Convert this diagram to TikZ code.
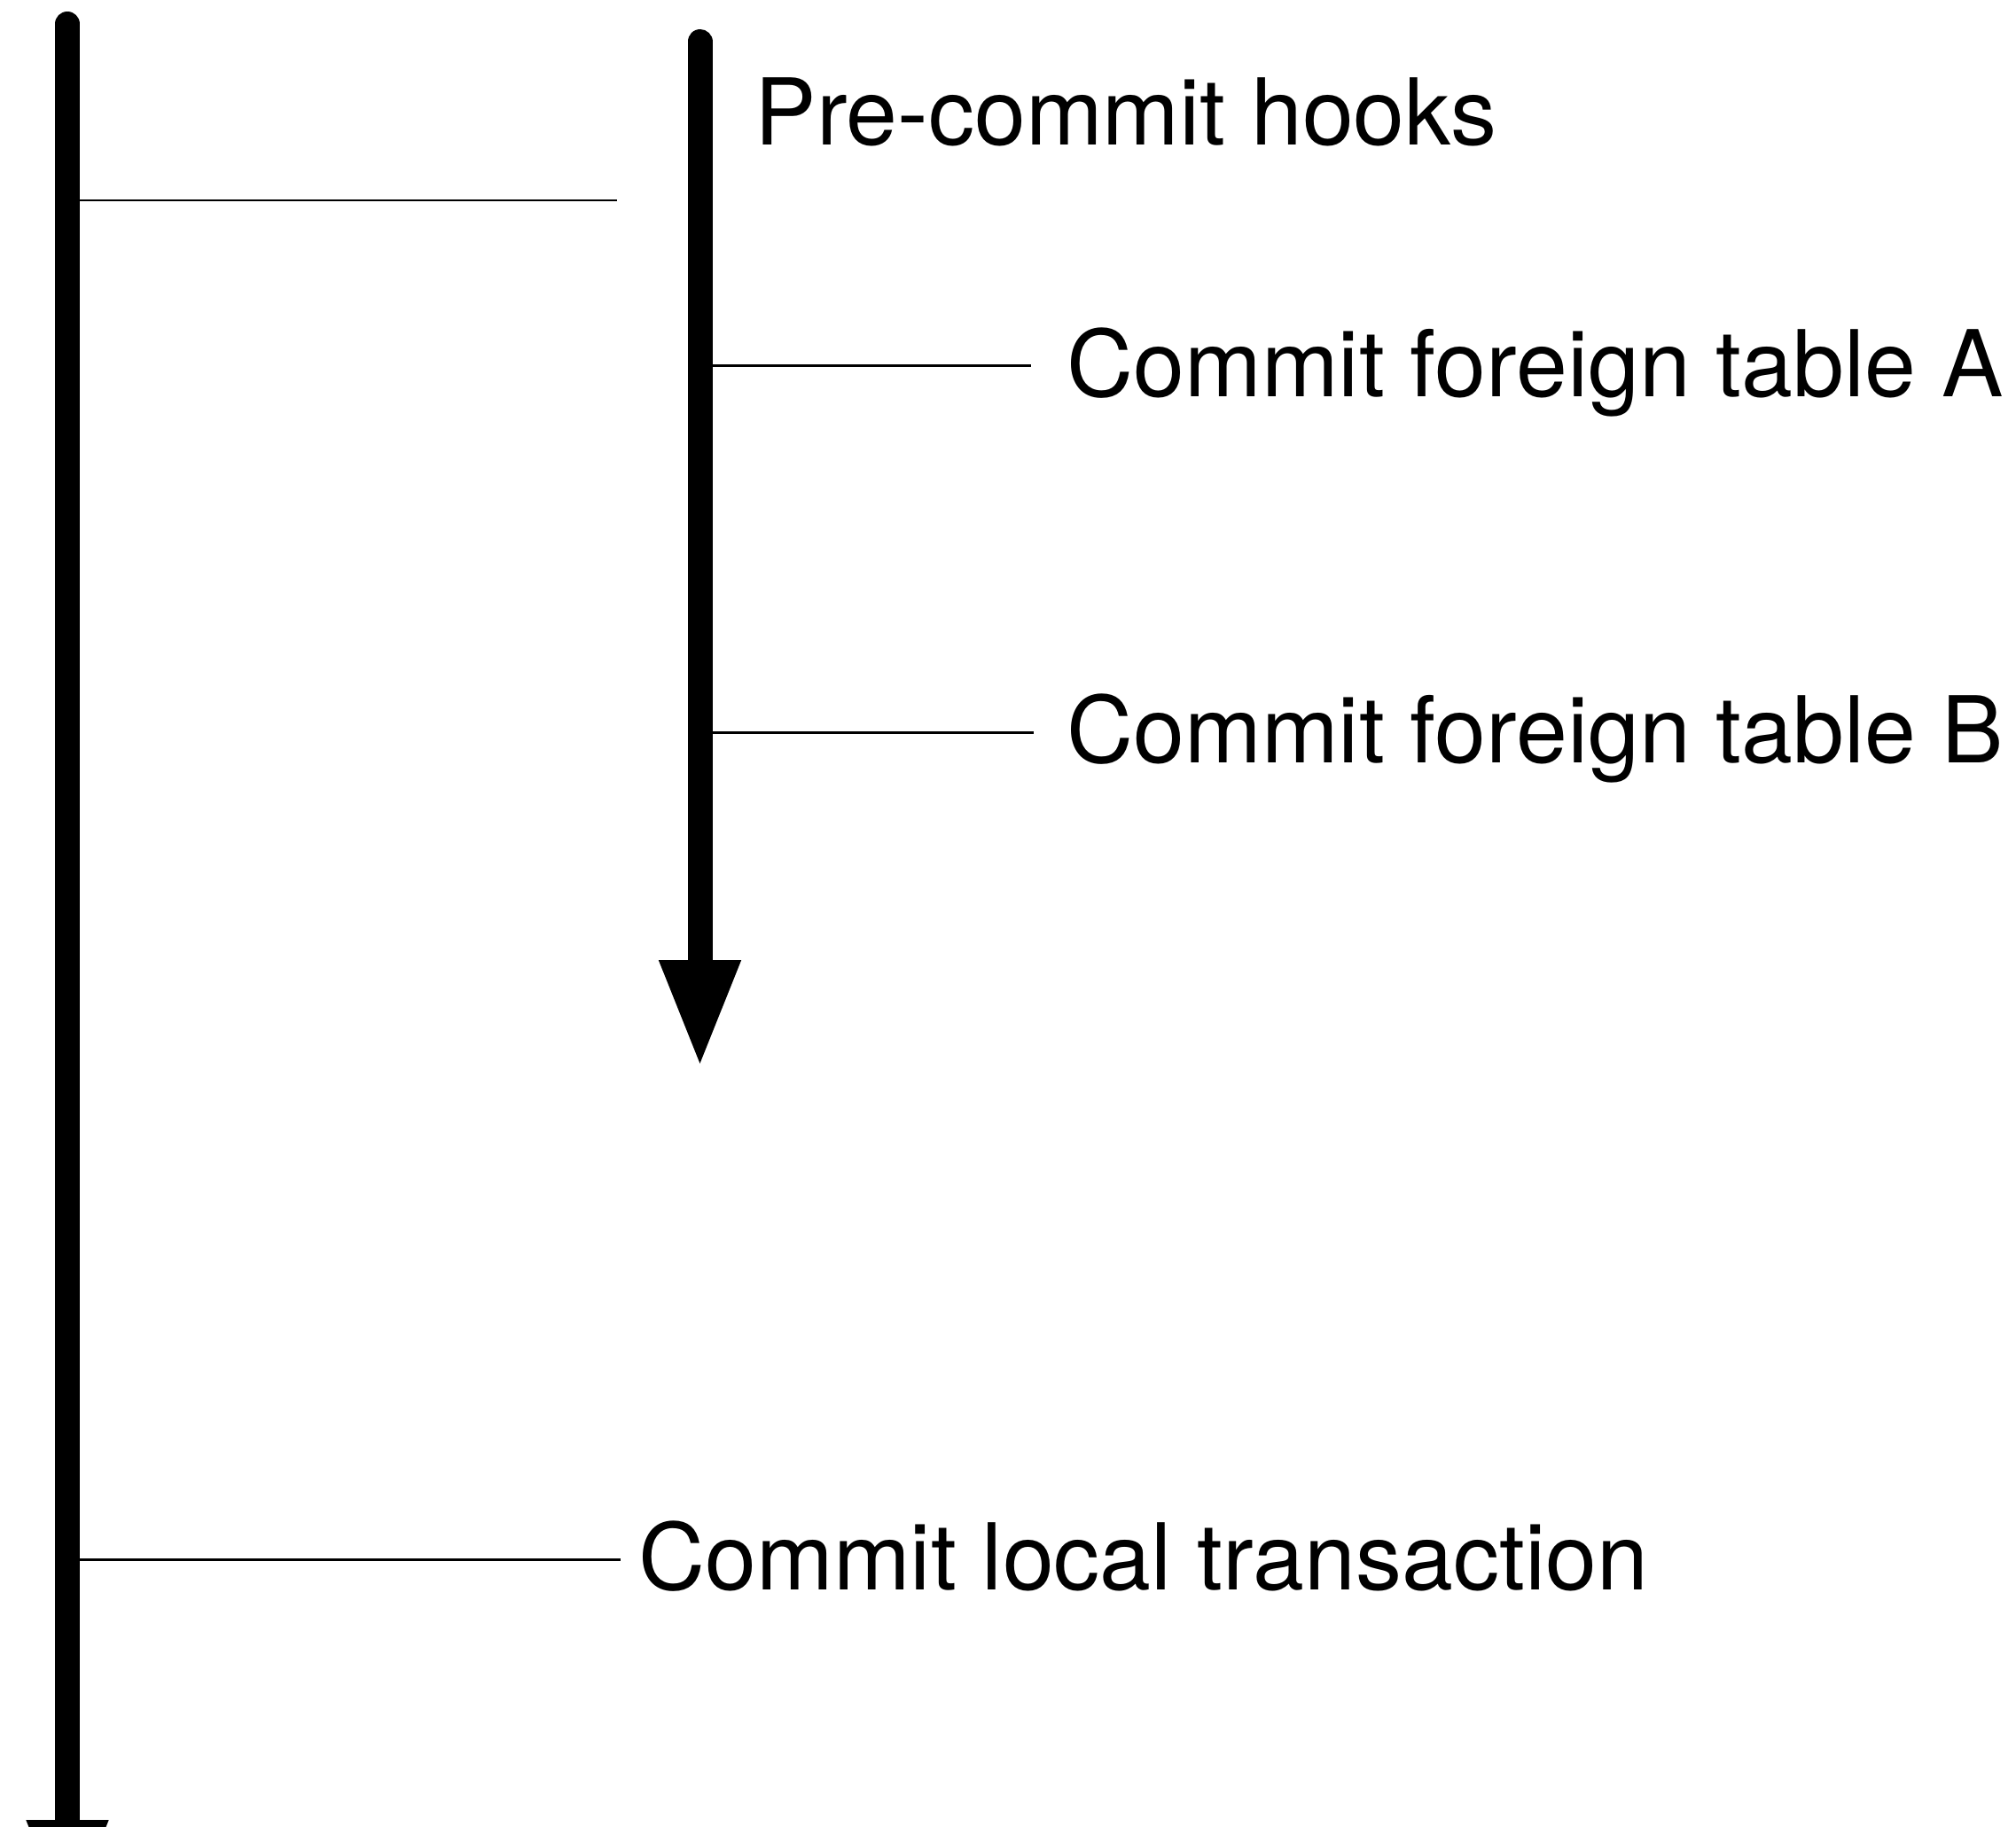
\documentclass[tikz,border=0pt]{standalone}
\usepackage{fontspec}
\setmainfont{TeX Gyre Heros}
\usetikzlibrary{positioning,arrows.meta}

\begin{document}
\begin{tikzpicture}[
every node/.style = {
	font = \fontsize{29.6}{35}\selectfont
},
timeline/.style = {
	line width = 0.28cm,
	line cap = round,
	-{Triangle[length=1.22cm, width=0.84cm]}
},
tick/.style = {
	line width = 0.85pt
},
step label/.style = {
	inner sep = 0pt,
	text height = 0.69cm,
	text depth = 0pt
}
]

\useasboundingbox (0,0) rectangle (22.74,-20.61);
\clip (0,0) rectangle (22.74,-20.61);

\coordinate (local start) at (0.76,-0.27);
\coordinate (local end) at (0.76,-21.75);
\coordinate (hooks start) at (7.895,-0.47);
\coordinate (hooks end) at (7.895,-12.05);

\coordinate (pre tick) at (0.76,-2.26);
\coordinate (pre tick end) at (6.96,-2.26);
\coordinate (a tick) at (7.895,-4.125);
\coordinate (a tick end) at (11.63,-4.125);
\coordinate (b tick) at (7.895,-8.26);
\coordinate (b tick end) at (11.66,-8.26);
\coordinate (local tick) at (0.76,-17.59);
\coordinate (local tick end) at (7.00,-17.59);

\node [step label, anchor = base west] (hooks) at (8.51,-1.63) {Pre-commit hooks};
\node [step label, right = 0.40cm of a tick end] (fta) {Commit foreign table A};
\node [step label, right = 0.37cm of b tick end] (ftb) {Commit foreign table B};
\node [step label, right = 0.20cm of local tick end] (lct) {Commit local transaction};

\draw[tick] (pre tick) -- (pre tick end);
\draw[tick] (a tick) -- (a tick end);
\draw[tick] (b tick) -- (b tick end);
\draw[tick] (local tick) -- (local tick end);

\draw[timeline] (local start) -- (local end);
\draw[timeline] (hooks start) -- (hooks end);

\end{tikzpicture}
\end{document}
